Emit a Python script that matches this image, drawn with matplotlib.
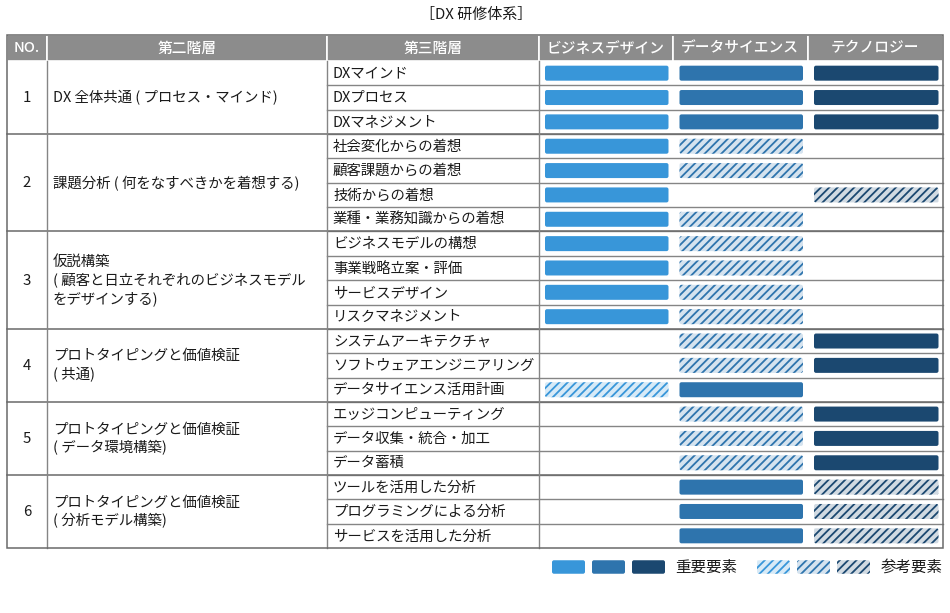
import matplotlib
matplotlib.use('Agg')
import matplotlib.pyplot as plt
from matplotlib.patches import FancyBboxPatch, Rectangle
from matplotlib.colors import to_rgb

plt.rcParams['font.family'] = ['Noto Sans CJK JP', 'DejaVu Sans']
plt.rcParams['hatch.linewidth'] = 1.3

# ---------------- data ----------------
title = '［DX 研修体系］'
header_labels = ['NO.', '第二階層', '第三階層']
categories = ['ビジネスデザイン', 'データサイエンス', 'テクノロジー']
group_nos = ['1', '2', '3', '4', '5', '6']
group_labels = [
    'DX 全体共通 ( プロセス・マインド)',
    '課題分析 ( 何をなすべきかを着想する)',
    '仮説構築\n( 顧客と日立それぞれのビジネスモデル\nをデザインする)',
    'プロトタイピングと価値検証\n( 共通)',
    'プロトタイピングと価値検証\n( データ環境構築)',
    'プロトタイピングと価値検証\n( 分析モデル構築)',
]
group_sizes = [3, 4, 4, 3, 3, 3]
items = [
    'DXマインド', 'DXプロセス', 'DXマネジメント',
    '社会変化からの着想', '顧客課題からの着想', '技術からの着想', '業種・業務知識からの着想',
    'ビジネスモデルの構想', '事業戦略立案・評価', 'サービスデザイン', 'リスクマネジメント',
    'システムアーキテクチャ', 'ソフトウェアエンジニアリング', 'データサイエンス活用計画',
    'エッジコンピューティング', 'データ収集・統合・加工', 'データ蓄積',
    'ツールを活用した分析', 'プログラミングによる分析', 'サービスを活用した分析',
]
# 2 = 重要要素 (solid), 1 = 参考要素 (hatched), 0 = none
business_design = [2, 2, 2, 2, 2, 2, 2, 2, 2, 2, 2, 0, 0, 1, 0, 0, 0, 0, 0, 0]
data_science    = [2, 2, 2, 1, 1, 0, 1, 1, 1, 1, 1, 1, 1, 2, 1, 1, 1, 2, 2, 2]
technology      = [2, 2, 2, 0, 0, 1, 0, 0, 0, 0, 0, 2, 2, 0, 2, 2, 2, 1, 1, 1]
legend_labels = ['重要要素', '参考要素']

# ---------------- style / layout ----------------
colors = ['#3896d9', '#2e74ad', '#1b4870']
header_bg = '#8c8c8c'
line_col = '#858585'
border_col = '#6a6a6a'
text_col = '#1a1a1a'
FS = 10.4

col_edges = [7, 47, 327, 538.5, 673, 807.5, 943]
header_top, header_bot = 35, 61
table_bot = 548
n_rows = len(items)
row_h = (table_bot - header_bot) / n_rows
bar_pad_l, bar_pad_r, bar_h = 6.5, 4.5, 15


def light(c, a=0.2):
    r, g, b = to_rgb(c)
    return (1 - a + a * r, 1 - a + a * g, 1 - a + a * b)


def draw_bar(ax, x, y, w, h, color, kind):
    style = 'round,pad=0,rounding_size=2'
    if kind == 2:
        ax.add_patch(FancyBboxPatch((x, y), w, h, boxstyle=style,
                                    fc=color, ec='none', zorder=3))
    elif kind == 1:
        ax.add_patch(FancyBboxPatch((x, y), w, h, boxstyle=style,
                                    fc=light(color), ec='none', zorder=3))
        ax.add_patch(FancyBboxPatch((x, y), w, h, boxstyle=style,
                                    fc='none', ec=color, lw=0, hatch='////', zorder=4))


fig = plt.figure(figsize=(9.5, 6.13), dpi=100)
ax = fig.add_axes([0, 0, 1, 1])
ax.set_xlim(0, 950)
ax.set_ylim(613, 0)
ax.axis('off')

# title
ax.text(476, 15, title, ha='center', va='center', fontsize=10.8, color=text_col)

# header
all_headers = header_labels + categories
for i, lab in enumerate(all_headers):
    x0, x1 = col_edges[i], col_edges[i + 1]
    ax.add_patch(Rectangle((x0, header_top), x1 - x0, header_bot - header_top,
                           fc=header_bg, ec='white', lw=1.2, zorder=1))
    ax.text((x0 + x1) / 2, (header_top + header_bot) / 2 + 0.5, lab,
            ha='center', va='center', fontsize=10.6, color='white', zorder=2,
            fontweight='medium')

# body lines
for r in range(1, n_rows):
    y = header_bot + r * row_h
    ax.plot([col_edges[2], col_edges[-1]], [y, y], color=line_col, lw=1, zorder=2)
bounds = [0]
for s in group_sizes:
    bounds.append(bounds[-1] + s)
for b in bounds[1:-1]:
    y = header_bot + b * row_h
    ax.plot([col_edges[0], col_edges[-1]], [y, y], color=border_col, lw=1.1, zorder=2)
for xe in col_edges[1:4]:
    ax.plot([xe, xe], [header_bot, table_bot], color=line_col, lw=1, zorder=2)
ax.add_patch(Rectangle((col_edges[0], header_top), col_edges[-1] - col_edges[0],
                       table_bot - header_top, fc='none', ec=border_col, lw=1.1, zorder=5))

# group cells
for g, (no, lab) in enumerate(zip(group_nos, group_labels)):
    yc = header_bot + (bounds[g] + bounds[g + 1]) / 2 * row_h
    ax.text((col_edges[0] + col_edges[1]) / 2, yc + 0.5, no, ha='center', va='center',
            fontsize=10.8, color=text_col)
    ax.text(col_edges[1] + 6, yc + 0.5, lab, ha='left', va='center', fontsize=FS,
            color=text_col, linespacing=1.33)

# items and bars
series = [business_design, data_science, technology]
for r, it in enumerate(items):
    yc = header_bot + (r + 0.5) * row_h
    ax.text(col_edges[2] + 6, yc + 0.5, it, ha='left', va='center', fontsize=FS,
            color=text_col)
    for c, vals in enumerate(series):
        x0, x1 = col_edges[3 + c], col_edges[4 + c]
        draw_bar(ax, x0 + bar_pad_l, yc - bar_h / 2, x1 - x0 - bar_pad_l - bar_pad_r,
                 bar_h, colors[c], vals[r])

# legend
leg_y = 567
box_w, box_h, gap = 33, 13.5, 7
x = 552
for c in colors:
    draw_bar(ax, x, leg_y - box_h / 2, box_w, box_h, c, 2)
    x += box_w + gap
ax.text(x + 3.5, leg_y, legend_labels[0], ha='left', va='center', fontsize=11.2,
        color=text_col)
x = 757
for c in colors:
    draw_bar(ax, x, leg_y - box_h / 2, box_w, box_h, c, 1)
    x += box_w + gap
ax.text(x + 3.5, leg_y, legend_labels[1], ha='left', va='center', fontsize=11.2,
        color=text_col)

fig.savefig('out.png', dpi=100)
